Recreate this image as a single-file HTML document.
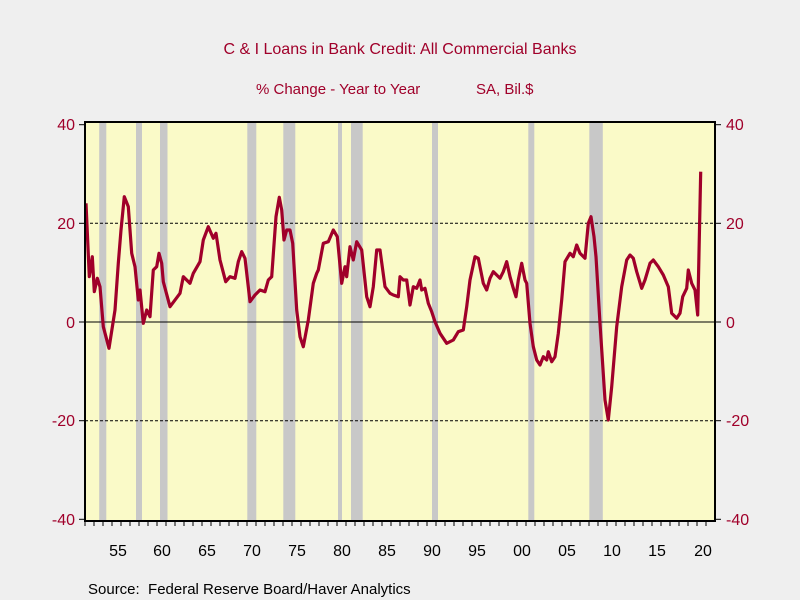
<!DOCTYPE html>
<html><head><meta charset="utf-8"><style>
body{margin:0;background:#efefef;}
svg{display:block;font-family:"Liberation Sans",sans-serif;}
</style></head><body>
<svg width="800" height="600" viewBox="0 0 800 600">
<rect width="800" height="600" fill="#efefef"/>
<text x="400" y="54" text-anchor="middle" font-size="16" fill="#a0002a">C &amp; I Loans in Bank Credit: All Commercial Banks</text>
<text x="256" y="94" font-size="15" fill="#a0002a">% Change - Year to Year</text>
<text x="476" y="94" font-size="15" fill="#a0002a">SA, Bil.$</text>
<rect x="85" y="122" width="630" height="399" fill="#fafac8"/>
<g fill="#c8c8c8">
<rect x="99.2" y="122" width="7.1" height="399"/>
<rect x="136" y="122" width="6" height="399"/>
<rect x="160" y="122" width="7.5" height="399"/>
<rect x="247.3" y="122" width="9" height="399"/>
<rect x="283.3" y="122" width="12" height="399"/>
<rect x="338" y="122" width="4" height="399"/>
<rect x="351" y="122" width="11.7" height="399"/>
<rect x="432" y="122" width="6" height="399"/>
<rect x="528.3" y="122" width="6" height="399"/>
<rect x="589.3" y="122" width="13.5" height="399"/>
</g>
<line x1="85" y1="223.3" x2="715" y2="223.3" stroke="#000" stroke-dasharray="3,2" stroke-width="1"/>
<line x1="85" y1="420.7" x2="715" y2="420.7" stroke="#000" stroke-dasharray="3,2" stroke-width="1"/>
<line x1="85" y1="322" x2="715" y2="322" stroke="#000" stroke-width="1"/>
<polyline fill="none" stroke="#a0002a" stroke-width="3.2" stroke-linejoin="round" points="
86,203.3 89.3,276.7 92.3,256.7 94.3,291.7 97.3,278.3 100,286.7 103.3,326.7 109,348.3 115,310 118.3,263.3 121,230 124.3,196.7 128.3,206.7 131.7,253.3 135,266.7 138.3,300 140,290 143.3,323.3 146.7,310 150,316.7 153.3,270 156.7,266.7 159,253.3 161.7,263.3 163.3,281.7 170,306.7 180,293.3 183.3,276.7 190,283.3 193.3,273.3 200,261.7 203.3,240 208.3,226.7 213.3,238.3 216,233.3 220,260 225.7,281.7 230,276.7 235,278.3 238.3,261.7 241.7,251.7 245,258.3 250,301.7 255,295 260,290 265,291.7 268.3,280 271.7,276.7 276,216.7 279.3,197.3 281.7,210 284,240 286.7,230 290,230 292.7,243.3 296.7,310 300,336.7 303.3,346.7 308.3,320 313.3,283.3 316.7,273.3 318.3,270 323.3,243.3 328.3,241.7 333.3,230 337.3,236.7 341.7,283.3 345,266.7 346.7,276.7 350,246.7 353.3,260 356.7,241.7 361.7,250 366.7,296.7 370,306.7 373.3,286.7 376.7,250 380,250 385,286.7 390,293.3 393.3,295 398.3,296.7 400,276.7 403.3,280 406.7,280 410,305 413.3,286.7 416.7,288.3 420,280 421.7,290 425,288.3 428.3,303.3 431.7,311.7 435,321.7 440,333.3 446.7,343.3 453.3,340 458.3,331.7 463.3,330 466.7,306.7 470,280 475,256.7 478.3,258.3 483.3,283.3 486.7,290 490,278.3 493.3,271.7 496.7,275 500,278.3 503.3,271.7 506.7,261.7 510,276.7 513.3,288.3 516,296.7 518.3,280 521.7,263.3 525,280 526.7,283.3 530,323.3 533.3,346.7 536.7,360 540,365 543.3,356.7 546.7,360 548.3,351.7 551.7,361.7 555,356.7 558.3,333.3 561.7,300 565,261.7 570,253.3 573.3,256.7 576.7,245 580,253.3 585,258.3 588.3,223.3 591,216.7 594,236.7 596,256.7 600,323.3 605,400 608.3,420 611.7,386.7 616.7,326.7 621.7,286.7 626.7,260 630,255 633.3,258.3 636.7,271.7 641.7,288.3 645,280 650,263.3 653.3,260 658.3,266.7 663.3,275 668.3,286.7 671.7,313.3 676.7,318.3 680,313.3 682.7,296.7 686.7,288.3 688.3,270 691.7,283.3 695,290 697.7,315 700.7,171.7"/>
<rect x="85" y="122" width="630" height="399" fill="none" stroke="#000" stroke-width="2"/>
<g stroke="#000" stroke-width="1">
<line x1="79" y1="124.7" x2="85" y2="124.7"/><line x1="79" y1="223.3" x2="85" y2="223.3"/><line x1="79" y1="322" x2="85" y2="322"/><line x1="79" y1="420.7" x2="85" y2="420.7"/><line x1="79" y1="519.3" x2="85" y2="519.3"/>
<line x1="715" y1="124.7" x2="721" y2="124.7"/><line x1="715" y1="223.3" x2="721" y2="223.3"/><line x1="715" y1="322" x2="721" y2="322"/><line x1="715" y1="420.7" x2="721" y2="420.7"/><line x1="715" y1="519.3" x2="721" y2="519.3"/>
</g>
<g font-size="16" fill="#a0002a" text-anchor="end">
<text x="75" y="130">40</text><text x="75" y="229">20</text><text x="75" y="328">0</text><text x="75" y="426">-20</text><text x="75" y="525">-40</text>
</g>
<g font-size="16" fill="#a0002a" text-anchor="start">
<text x="726" y="130">40</text><text x="726" y="229">20</text><text x="726" y="328">0</text><text x="726" y="426">-20</text><text x="726" y="525">-40</text>
</g>
<g font-size="16" fill="#000" text-anchor="middle">
<text x="118" y="556">55</text><text x="162" y="556">60</text><text x="207" y="556">65</text><text x="252" y="556">70</text><text x="297" y="556">75</text><text x="342" y="556">80</text><text x="387" y="556">85</text><text x="432" y="556">90</text><text x="477" y="556">95</text><text x="522" y="556">00</text><text x="567" y="556">05</text><text x="612" y="556">10</text><text x="657" y="556">15</text><text x="703" y="556">20</text>
</g>
<path stroke="#000" stroke-width="1" fill="none" d="M85,521v5M94,521v5M103,521v5M112,521v5M121,521v5M130,521v5M139,521v5M148,521v5M157,521v5M166,521v5M175,521v5M184,521v5M193,521v5M202,521v5M211,521v5M220,521v5M229,521v5M238,521v5M247,521v5M256,521v5M265,521v5M274,521v5M283,521v5M292,521v5M301,521v5M310,521v5M319,521v5M328,521v5M337,521v5M346,521v5M355,521v5M364,521v5M373,521v5M382,521v5M391,521v5M400,521v5M409,521v5M418,521v5M427,521v5M436,521v5M445,521v5M454,521v5M463,521v5M472,521v5M481,521v5M490,521v5M499,521v5M508,521v5M517,521v5M526,521v5M535,521v5M544,521v5M553,521v5M562,521v5M571,521v5M580,521v5M589,521v5M598,521v5M607,521v5M616,521v5M625,521v5M634,521v5M643,521v5M652,521v5M661,521v5M670,521v5M679,521v5M688,521v5M697,521v5M706,521v5"/>
<text x="88" y="594" font-size="15" fill="#000" xml:space="preserve">Source:  Federal Reserve Board/Haver Analytics</text>
</svg>
</body></html>
